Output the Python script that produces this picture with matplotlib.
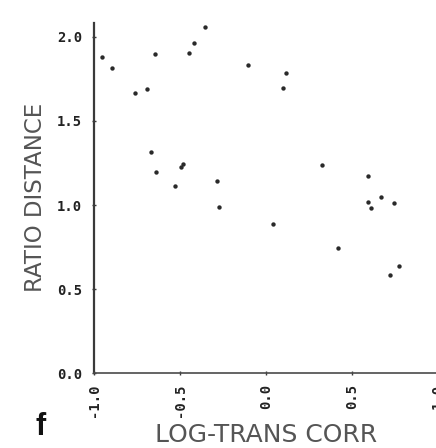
import matplotlib
matplotlib.use("Agg")
import matplotlib.pyplot as plt

# data
log_trans_corr = [-0.952, -0.894, -0.762, -0.692, -0.644, -0.449, -0.419, -0.356,
                  -0.669, -0.641, -0.494, -0.483, -0.531, -0.287, -0.273,
                  -0.106, 0.116, 0.099, 0.327, 0.595, 0.669, 0.593, 0.610,
                  0.746, 0.041, 0.419, 0.719, 0.771]
ratio_distance = [1.883, 1.814, 1.667, 1.692, 1.899, 1.905, 1.966, 2.061,
                  1.315, 1.195, 1.226, 1.244, 1.111, 1.143, 0.990,
                  1.832, 1.788, 1.696, 1.238, 1.173, 1.049, 1.018, 0.982,
                  1.014, 0.887, 0.742, 0.585, 0.639]
x_ticks = [-1.0, -0.5, 0.0, 0.5, 1.0]
x_tick_labels = ["-1.0", "-0.5", "0.0", "0.5", "1.0"]
y_ticks = [0.0, 0.5, 1.0, 1.5, 2.0]
y_tick_labels = ["0.0", "0.5", "1.0", "1.5", "2.0"]

W, H = 436, 448
fig = plt.figure(figsize=(W / 100, H / 100), dpi=100)
fig.patch.set_facecolor("white")

# axes: x=-1 at px 94, 172 px per unit; y=0 at px 373 (from top), 168 px per unit
x0_px, xs = 94, 172
y0_px, ys = 373, 168
xmin, xmax = -1.0, 1.25
ymin, ymax = 0.0, 2.083
left = x0_px / W
width = (xmax - xmin) * xs / W
bottom = (H - y0_px) / H
height = (ymax - ymin) * ys / H
ax = fig.add_axes([left, bottom, width, height])
ax.set_xlim(xmin, xmax)
ax.set_ylim(ymin, ymax)

ax.scatter(log_trans_corr, ratio_distance, s=10, color="#2a2a2a", linewidths=0, zorder=3)

for s in ["top", "right"]:
    ax.spines[s].set_visible(False)
ax.spines["left"].set_color("#3a3a3a")
ax.spines["left"].set_linewidth(1.6)
ax.spines["bottom"].set_color("#4a4a4a")
ax.spines["bottom"].set_linewidth(1.2)

tick_font = dict(family="DejaVu Sans Mono", weight="bold", size=10)
ax.set_xticks(x_ticks)
ax.set_xticklabels(x_tick_labels, rotation=90, color="#222222", **tick_font)
ax.set_yticks(y_ticks)
ax.set_yticklabels(y_tick_labels, color="#222222", **tick_font)
ax.tick_params(axis="both", direction="inout", length=3, width=1, color="#3a3a3a")
ax.tick_params(axis="x", pad=6)
ax.tick_params(axis="y", pad=7)

fig.text(42 / W, 1 - 197 / H, "RATIO DISTANCE", rotation=90, rotation_mode="anchor",
         ha="center", va="baseline",
         family="DejaVu Sans", weight="normal", size=16.5, color="#555555")
fig.text(155 / W, 1 - 442 / H, "LOG-TRANS CORR", ha="left", va="baseline",
         family="DejaVu Sans", weight="normal", size=18, color="#555555")
fig.text(35 / W, 1 - 435 / H, "f", ha="left", va="baseline",
         family="Liberation Sans", weight="bold", size=22, color="#111111")

fig.savefig("out.png", dpi=100, facecolor="white")
